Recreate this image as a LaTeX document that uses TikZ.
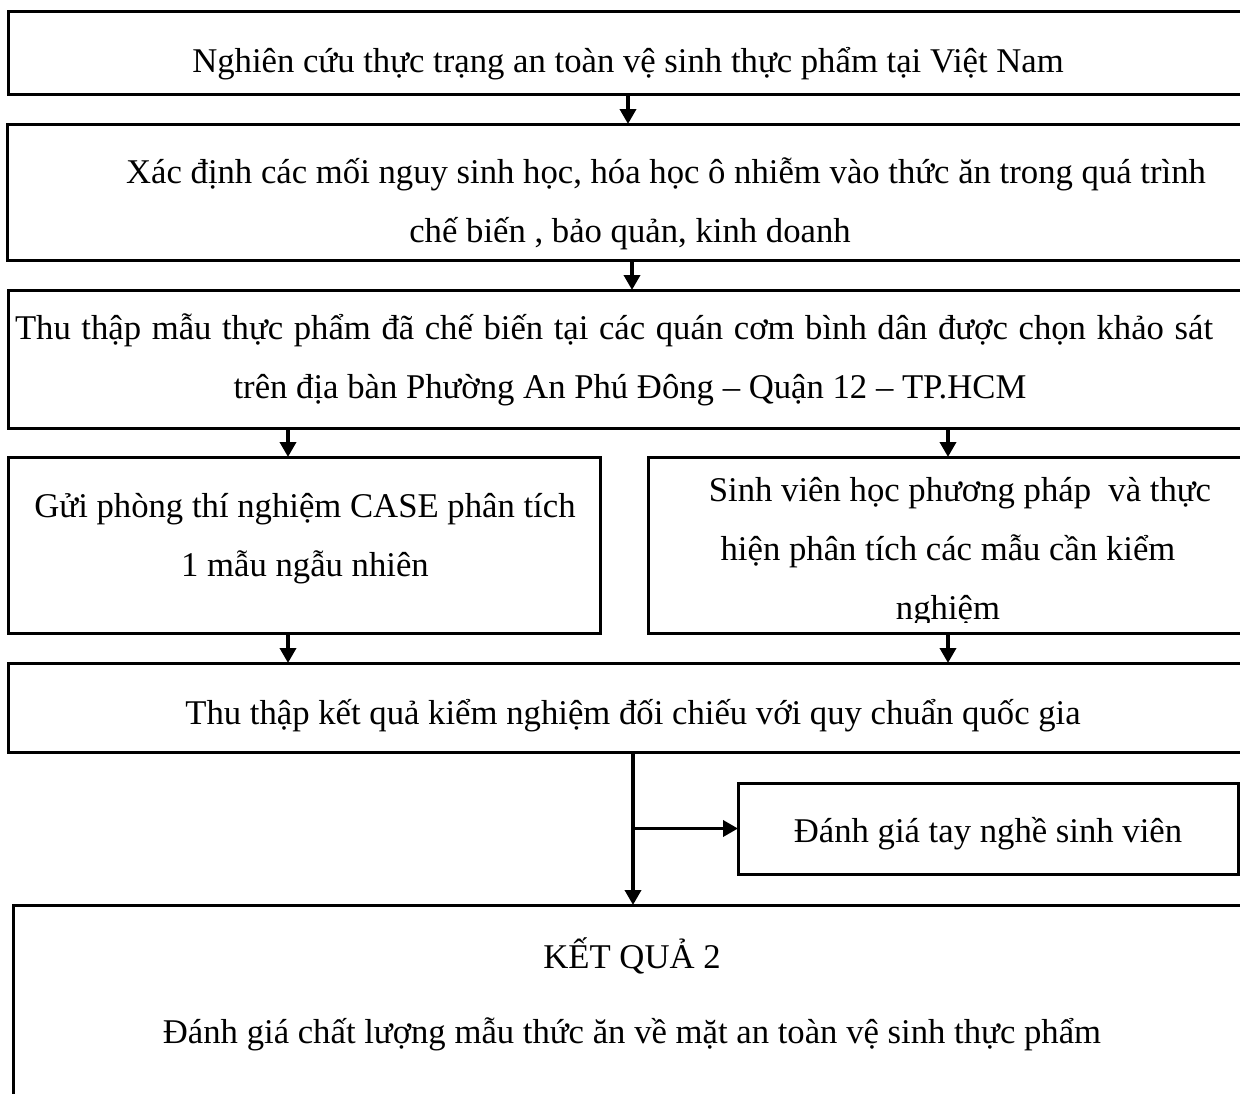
\documentclass[tikz,border=0pt]{standalone}
\usepackage{fontspec}
\setmainfont{Liberation Serif}
\usetikzlibrary{arrows.meta}
\newcommand\tstrut{\rule{0pt}{40pt}}
\begin{document}
\begin{tikzpicture}[x=1pt,y=-1pt,
  box/.style={draw, line width=3pt, rectangle, inner sep=0pt, outer sep=0pt, anchor=north west},
  txt/.style={font=\fontsize{34.7}{59}\selectfont, align=center, inner sep=0pt, outer sep=0pt, anchor=north},
  arr/.style={line width=3.6pt, -{Triangle[width=16pt,length=15pt]}}]
\clip (0,0) rectangle (1240,1093);
\fill[white] (0,0) rectangle (1240,1093);
% boxes
\node[box, minimum width=1240pt, minimum height=83pt] (b1) at (8,11) {};
\node[box, minimum width=1250pt, minimum height=136pt] (b2) at (7,124) {};
\node[box, minimum width=1240pt, minimum height=138pt] (b3) at (8,290) {};
\node[box, minimum width=592pt, minimum height=176pt] (b4) at (8,457) {};
\node[box, minimum width=600pt, minimum height=176pt] (b5) at (648,457) {};
\node[box, minimum width=1250pt, minimum height=89pt] (b6) at (8,663) {};
\node[box, minimum width=500pt, minimum height=91pt] (b7) at (738,783) {};
\node[box, minimum width=1240pt, minimum height=220pt] (b8) at (13,905) {};
% texts
\node[txt] (t1) at (628,32) {\tstrut Nghiên cứu thực trạng an toàn vệ sinh thực phẩm tại Việt Nam};
\node[txt] (t2) at (630,143) {\tstrut\hspace*{72pt}Xác định các mối nguy sinh học, hóa học ô nhiễm vào thức ăn trong quá trình\\chế biến , bảo quản, kinh doanh};
\node[txt] (t3) at (630,299) {\tstrut\hspace*{-32pt}\makebox[1198pt][s]{Thu thập mẫu thực phẩm đã chế biến tại các quán cơm bình dân được chọn khảo sát}\\trên địa bàn Phường An Phú Đông -- Quận 12 -- TP.HCM};
\node[txt] (t4) at (305,477) {\tstrut Gửi phòng thí nghiệm CASE phân tích\\1 mẫu ngẫu nhiên};
\begin{scope}
\clip (b5.north west) rectangle ([yshift=11pt]b5.south east);
\node[txt] (t5) at (948,461) {\tstrut\hspace*{24pt}Sinh viên học phương pháp\ \ và thực\\hiện phân tích các mẫu cần kiểm\\nghiệm};
\end{scope}
\node[txt] (t6) at (633,684) {\tstrut Thu thập kết quả kiểm nghiệm đối chiếu với quy chuẩn quốc gia};
\node[txt] (t7) at (988,802) {\tstrut Đánh giá tay nghề sinh viên};
\node[txt] (t8) at (632,928) {\tstrut KẾT QUẢ 2\\[16pt]Đánh giá chất lượng mẫu thức ăn về mặt an toàn vệ sinh thực phẩm};
% connectors
\draw[arr] (b1.south) -- (b1.south |- b2.north);
\draw[arr] (b2.south) -- (b2.south |- b3.north);
\draw[arr] ([xshift=-16pt]b4.north |- b3.south) -- ([xshift=-16pt]b4.north);
\draw[arr] (b5.north |- b3.south) -- (b5.north);
\draw[arr] ([xshift=-16pt]b4.south) -- ([xshift=-16pt]b4.south |- b6.north);
\draw[arr] (b5.south) -- (b5.south |- b6.north);
\draw[arr] (b6.south) -- (b6.south |- b8.north);
\draw[arr] (b6.south |- b7.west) -- (b7.west);
\end{tikzpicture}
\end{document}
